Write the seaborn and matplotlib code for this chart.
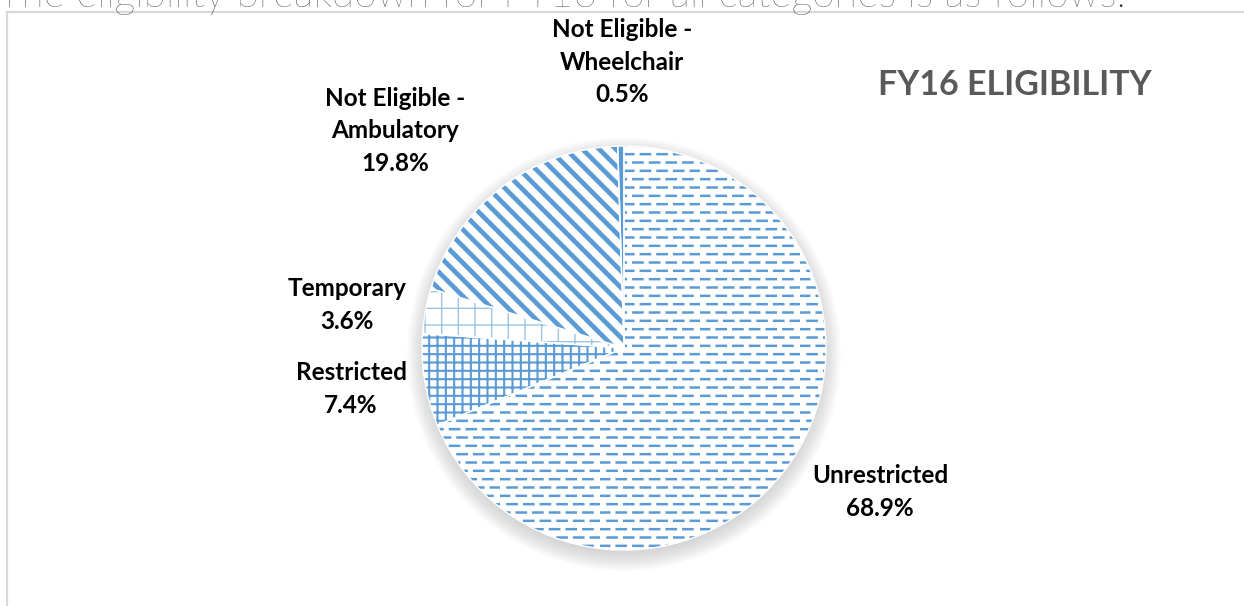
import numpy as np
import matplotlib
matplotlib.use("Agg")
import matplotlib.pyplot as plt
import matplotlib.hatch as mhatch
from matplotlib.patches import Rectangle, Circle
import seaborn as sns

# ---------------- data ----------------
categories = ["Unrestricted", "Restricted", "Temporary",
              "Not Eligible -\nAmbulatory", "Not Eligible -\nWheelchair"]
shares = [68.9, 7.4, 3.6, 19.8, 0.5]
chart_title = "FY16 ELIGIBILITY"
intro_text = "The eligibility breakdown for FY16 for all categories is as follows:"

# ---------------- custom hatch: brick-offset dashes for '-' ----------------
class PlusOnlyHorizontal(mhatch.HorizontalHatch):
    def __init__(self, hatch, density):
        self.num_lines = int(hatch.count('+') * density)
        self.num_vertices = self.num_lines * 2


class DashRows(mhatch.HatchPatternBase):
    def __init__(self, hatch, density):
        self.rows = int(hatch.count('-') * density)
        self.per_row = 6 if self.rows else 0
        self.num_vertices = self.rows * self.per_row * 2

    def set_vertices_and_codes(self, vertices, codes):
        k = 0
        for i in range(self.rows):
            y = (i + 0.5) / self.rows
            off = 0.45 if i % 2 else 0.0
            for j in range(self.per_row):
                x0 = (j + off) / self.per_row
                x1 = x0 + 0.55 / self.per_row
                vertices[k] = (x0, y)
                vertices[k + 1] = (x1, y)
                codes[k] = mhatch.Path.MOVETO
                codes[k + 1] = mhatch.Path.LINETO
                k += 2


mhatch._hatch_types = [PlusOnlyHorizontal, DashRows] + [
    t for t in mhatch._hatch_types if t is not mhatch.HorizontalHatch]

# ---------------- style ----------------
sns.set_theme(style="white")
plt.rcParams['font.family'] = ['Lato', 'DejaVu Sans']

W, H = 1244, 606
fig = plt.figure(figsize=(W / 100, H / 100), dpi=100)
fig.patch.set_facecolor("white")

# chart frame
fig.patches.append(Rectangle((7 / W, -0.1), 2.0, 1 - 12 / H + 0.1,
                             transform=fig.transFigure, fill=False,
                             edgecolor="#D9D9D9", linewidth=1.6, zorder=0))

# intro sentence, cut by the top edge (as in the source page)
fig.text(-0.002, 1 - 7 / H, intro_text, fontsize=29.5, fontweight="light",
         color="#303030", ha="left", va="baseline",
         family=['Lato', 'DejaVu Sans'])

# pie axes
cx, cy, r = 624, 348, 202
ax = fig.add_axes([(cx - r) / W, (H - cy - r) / H, 2 * r / W, 2 * r / H])

# soft shadow
for k in range(16):
    ax.add_patch(Circle((0.0, -0.03), 0.985 + 0.006 * k, color="#808080",
                        alpha=0.02, linewidth=0, zorder=0, clip_on=False))

blue = "#5B9BD5"
light_blue = "#9DC3E6"
hatches = ['--', '++', '+', '\\\\', '']
hatch_cols = [blue, blue, light_blue, blue, blue]
face_cols = ["white", "white", "white", "white", blue]
hatch_lw = [1.8, 1.5, 1.0, 3.4, 1.0]

wedges, _ = ax.pie(shares, startangle=90, counterclock=False, radius=1.0,
                   colors=face_cols, wedgeprops=dict(linewidth=0))
for w, h, hc, lw in zip(wedges, hatches, hatch_cols, hatch_lw):
    w.set_edgecolor(hc)
    w.set_linewidth(0)
    w.set_hatch(h)
    if hasattr(w, "set_hatch_linewidth"):
        w.set_hatch_linewidth(lw)
    w.set_zorder(2)

# white separators between slices
sep, _ = ax.pie(shares, startangle=90, counterclock=False, radius=1.0,
                wedgeprops=dict(fill=False, edgecolor="white", linewidth=1.0))
for s in sep:
    s.set_zorder(3)

ax.set_xlim(-1, 1)
ax.set_ylim(-1, 1)
ax.axis("off")

# data labels (figure pixel positions of the label block centres)
label_pos = [(880, 492), (351, 389), (347, 305), (395, 131), (622, 62)]
for name, v, (lx, ly) in zip(categories, shares, label_pos):
    fig.text(lx / W, 1 - ly / H, f"{name}\n{v:.1f}%", ha="center",
             va="center", fontsize=17.5, fontweight="bold", color="black",
             linespacing=1.5, multialignment="center")

fig.text(1015 / W, 1 - 85 / H, chart_title, ha="center", va="center",
         fontsize=24.5, fontweight="bold", color="#595959")

fig.savefig("out.png", dpi=100, facecolor="white")
